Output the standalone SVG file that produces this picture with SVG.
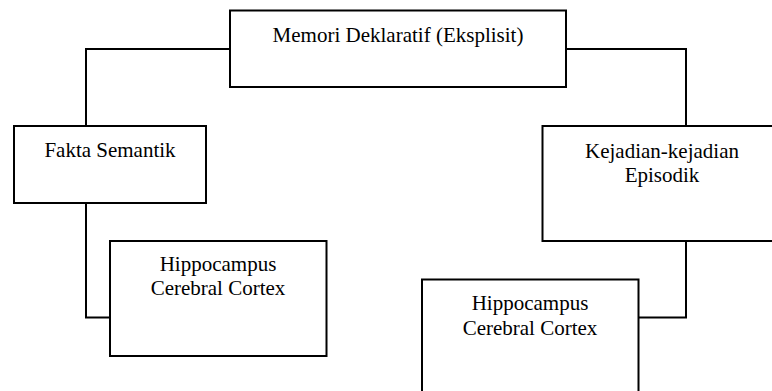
<svg xmlns="http://www.w3.org/2000/svg" width="772" height="391" viewBox="0 0 772 391">
<style>
.box{fill:#fff;stroke:#000;stroke-width:2}
.t{font-family:"Liberation Serif","Times New Roman",serif;font-size:21px;fill:#000;text-anchor:middle}
.c{fill:none;stroke:#000;stroke-width:2}
</style>
<rect width="772" height="391" fill="#fff"/>
<g id="connectors">
<polyline class="c" points="230,49 86,49 86,126"/>
<polyline class="c" points="566,49 686,49 686,126"/>
<polyline class="c" points="86,203 86,317.5 110,317.5"/>
<polyline class="c" points="686,241 686,317.5 638,317.5"/>
</g>
<g id="memori">
<rect class="box" x="230" y="10.5" width="336" height="76.5"/>
<text class="t" x="398" y="42">Memori Deklaratif (Eksplisit)</text>
</g>
<g id="fakta">
<rect class="box" x="14" y="126" width="192" height="77"/>
<text class="t" x="110" y="157">Fakta Semantik</text>
</g>
<g id="kejadian">
<rect class="box" x="542.5" y="126" width="240" height="115"/>
<text class="t" x="662" y="158">Kejadian-kejadian</text>
<text class="t" x="662" y="182">Episodik</text>
</g>
<g id="hippo-left">
<rect class="box" x="110" y="241" width="216.5" height="115"/>
<text class="t" x="218" y="271">Hippocampus</text>
<text class="t" x="218" y="295">Cerebral Cortex</text>
</g>
<g id="hippo-right">
<rect class="box" x="422" y="279.5" width="216.5" height="120"/>
<text class="t" x="530" y="310">Hippocampus</text>
<text class="t" x="530" y="334.5">Cerebral Cortex</text>
</g>
</svg>
